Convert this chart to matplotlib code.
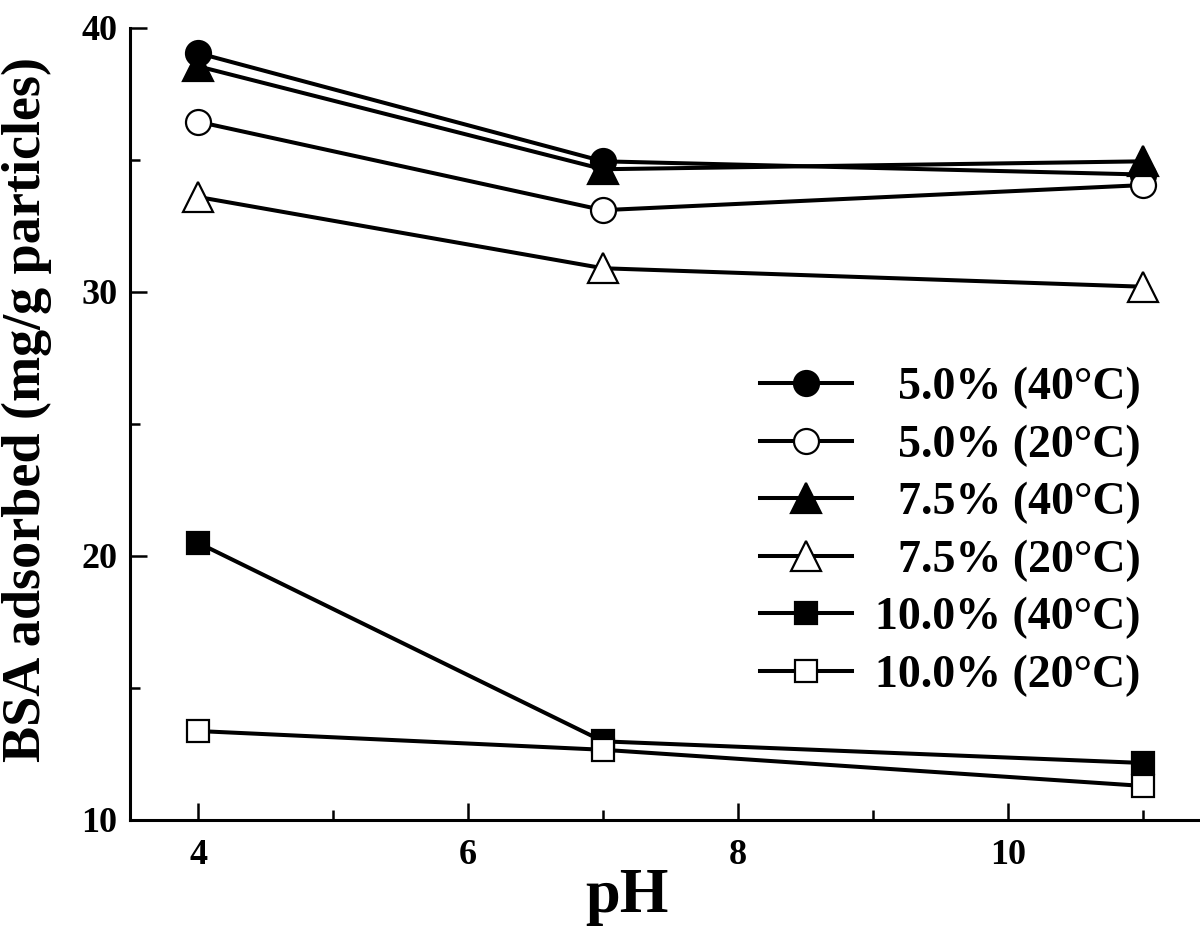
import matplotlib
matplotlib.use('Agg')
import matplotlib.pyplot as plt
from matplotlib.ticker import MultipleLocator

plt.rcParams['font.family'] = ['Liberation Serif', 'DejaVu Serif']
plt.rcParams['font.weight'] = 'bold'

ph = [4, 7, 11]
labels = ['  5.0% (40°C)', '  5.0% (20°C)', '  7.5% (40°C)',
          '  7.5% (20°C)', '10.0% (40°C)', '10.0% (20°C)']
bsa_5_40 = [39.05, 34.95, 34.45]
bsa_5_20 = [36.45, 33.1, 34.05]
bsa_75_40 = [38.55, 34.65, 34.95]
bsa_75_20 = [33.6, 30.9, 30.2]
bsa_10_40 = [20.5, 12.98, 12.16]
bsa_10_20 = [13.37, 12.66, 11.29]

series = [bsa_5_40, bsa_5_20, bsa_75_40, bsa_75_20, bsa_10_40, bsa_10_20]
markers = ['o', 'o', '^', '^', 's', 's']
sizes = [18, 18, 21, 21, 16, 16]
fills = ['black', 'white', 'black', 'white', 'black', 'white']

fig = plt.figure(figsize=(12, 9.33), dpi=100)
ax = fig.add_axes([130 / 1200, 1 - 820 / 933, 1 - 130 / 1200, (820 - 28) / 933])

for ys, lab, m, s, fc in zip(series, labels, markers, sizes, fills):
    ax.plot(ph, ys, color='black', lw=2.9, marker=m, ms=s,
            mfc=fc, mec='black', mew=1.6, label=lab)

ax.set_xlim(3.496, 11.422)
ax.set_ylim(10, 40)
ax.xaxis.set_major_locator(MultipleLocator(2))
ax.xaxis.set_minor_locator(MultipleLocator(1))
ax.yaxis.set_major_locator(MultipleLocator(10))
ax.yaxis.set_minor_locator(MultipleLocator(5))

for side in ['top', 'right']:
    ax.spines[side].set_visible(False)
for side in ['left', 'bottom']:
    ax.spines[side].set_linewidth(2.2)

ax.tick_params(which='both', direction='in', width=1.8)
ax.tick_params(which='major', length=12)
ax.tick_params(which='minor', length=7)
ax.tick_params(axis='x', which='major', pad=14, labelsize=26)
ax.tick_params(axis='y', which='major', pad=9, labelsize=26)

ax.set_xlabel('pH', fontsize=45, fontweight='bold')
ax.xaxis.set_label_coords(0.464, -0.06)
ax.set_ylabel('BSA adsorbed (mg/g particles)', fontsize=39, fontweight='bold')
ax.yaxis.set_label_coords(-0.073, 0.518)

leg = ax.legend(loc='upper left', bbox_to_anchor=(760 / 1200, 1 - 367 / 933),
                bbox_transform=fig.transFigure, frameon=False, fontsize=33,
                handlelength=2.0, handletextpad=0.5, labelspacing=0.33,
                borderpad=0, borderaxespad=0)
for line in leg.get_lines():
    line.set_linewidth(2.9)

plt.savefig('out.png', dpi=100)
plt.close(fig)
